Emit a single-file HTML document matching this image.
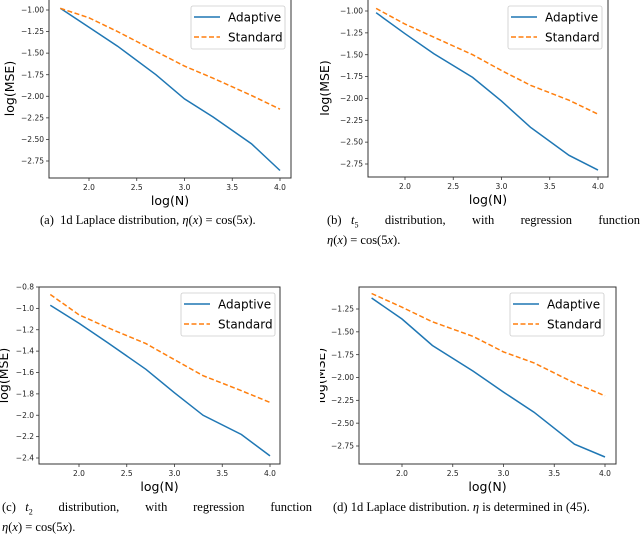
<!DOCTYPE html>
<html><head><meta charset="utf-8">
<style>
body{margin:0;background:#fff;width:640px;height:531px;overflow:hidden;}
svg{display:block;}
.tk{font-family:"DejaVu Sans","Liberation Sans",sans-serif;font-size:7.5px;fill:#222;}
.lab{font-family:"DejaVu Sans","Liberation Sans",sans-serif;font-size:12.5px;fill:#000;}
.lg{font-family:"DejaVu Sans","Liberation Sans",sans-serif;font-size:12px;fill:#000;}
</style></head><body>
<svg id="fig" width="640" height="531" viewBox="0 0 640 531">
<defs><clipPath id="clipRight"><rect x="320" y="0" width="320" height="531"/></clipPath></defs>
</svg>
<script>
const xValues=[1.7,2.0,2.3,2.7,3.0,3.3,3.7,4.0];
const xTicks=[2.0,2.5,3.0,3.5,4.0];
const adaptiveA=[-0.98,-1.20,-1.42,-1.75,-2.03,-2.24,-2.55,-2.86];
const standardA=[-0.98,-1.09,-1.25,-1.48,-1.65,-1.79,-1.99,-2.15];
const adaptiveB=[-1.02,-1.26,-1.49,-1.76,-2.03,-2.33,-2.65,-2.82];
const standardB=[-0.97,-1.15,-1.30,-1.50,-1.68,-1.85,-2.02,-2.18];
const adaptiveC=[-0.97,-1.14,-1.32,-1.57,-1.79,-2.00,-2.18,-2.38];
const standardC=[-0.87,-1.06,-1.18,-1.33,-1.48,-1.63,-1.77,-1.88];
const adaptiveD=[-1.13,-1.36,-1.65,-1.93,-2.16,-2.38,-2.73,-2.87];
const standardD=[-1.08,-1.23,-1.39,-1.55,-1.72,-1.84,-2.06,-2.20];
const yTicksA=[-1.00,-1.25,-1.50,-1.75,-2.00,-2.25,-2.50,-2.75];
const yTicksC=[-0.8,-1.0,-1.2,-1.4,-1.6,-1.8,-2.0,-2.2,-2.4];
const yTicksD=[-1.25,-1.50,-1.75,-2.00,-2.25,-2.50,-2.75];

const NS='http://www.w3.org/2000/svg';
const svg=document.getElementById('fig');
function mk(tag,attrs,parent){const e=document.createElementNS(NS,tag);for(const k in attrs)e.setAttribute(k,attrs[k]);(parent||svg).appendChild(e);return e;}

function panel(p){
  const g=mk('g',p.clip?{'clip-path':'url(#clipRight)'}:{});
  
  
  const sx=v=>p.x2px+(v-2)*(p.x4px-p.x2px)/2;
  const sy=v=>p.yApx+(v-p.yA)*(p.yBpx-p.yApx)/(p.yB-p.yA);
  const frame=mk('rect',{x:p.L,y:p.T,width:p.R-p.L,height:p.B-p.T,fill:'none',stroke:'#333','stroke-width':1},g);
  
  
  p.yt.forEach(v=>{const y=sy(v);
    mk('line',{x1:p.L-3,x2:p.L,y1:y,y2:y,stroke:'#333','stroke-width':0.8},g);
    const t=mk('text',{x:p.L-5,y:y+2.6,'text-anchor':'end',class:'tk'},g);t.textContent=(v<0?'\u2212':'')+Math.abs(v).toFixed(p.dec);
    
    
  });
  xTicks.forEach(v=>{const x=sx(v);
    mk('line',{x1:x,x2:x,y1:p.B,y2:p.B+3,stroke:'#333','stroke-width':0.8},g);
    const t=mk('text',{x:x,y:p.B+12,'text-anchor':'middle',class:'tk'},g);t.textContent=v.toFixed(1);
    
    
  });
  const yl=mk('text',{x:0,y:0,'text-anchor':'middle',class:'lab',transform:`translate(${p.ylx},${(p.T+p.B)/2}) rotate(-90)`},g);yl.textContent='log(MSE)';
  
  
  const xl=mk('text',{x:(p.L+p.R)/2,y:p.B+27,'text-anchor':'middle',class:'lab'},g);xl.textContent='log(N)';
  
  
  const pts=a=>a.map((v,i)=>sx(xValues[i]).toFixed(1)+','+sy(v).toFixed(1)).join(' ');
  const la=mk('polyline',{points:pts(p.ad),fill:'none',stroke:'#1f77b4','stroke-width':1.5},g);
  
  
  const ls=mk('polyline',{points:pts(p.st),fill:'none',stroke:'#ff7f0e','stroke-width':1.5,'stroke-dasharray':'5,2.5'},g);
  
  
  const lgx=p.lgx,lgy=p.lgy;
  const lg=mk('g',{},g);
  
  
  mk('rect',{x:lgx,y:lgy,width:94,height:43,rx:2,fill:'#fff',stroke:'#ccc','stroke-width':0.8},lg);
  mk('line',{x1:lgx+3,x2:lgx+29,y1:lgy+11,y2:lgy+11,stroke:'#1f77b4','stroke-width':1.5},lg);
  mk('line',{x1:lgx+3,x2:lgx+29,y1:lgy+31,y2:lgy+31,stroke:'#ff7f0e','stroke-width':1.5,'stroke-dasharray':'5,2.5'},lg);
  const t1=mk('text',{x:lgx+37,y:lgy+15.5,class:'lg'},lg);t1.textContent='Adaptive';
  
  
  const t2=mk('text',{x:lgx+37,y:lgy+35.5,class:'lg'},lg);t2.textContent='Standard';
  
  
}
panel({id:'a',L:49,R:291,T:-1,B:178,x2px:89,x4px:280,yA:-1,yApx:10,yB:-2.75,yBpx:161,yt:yTicksA,dec:2,ad:adaptiveA,st:standardA,lgx:191,lgy:6,ylx:14});
panel({id:'b',L:368,R:608,T:-1,B:177,x2px:405,x4px:598,yA:-1,yApx:11,yB:-2.75,yBpx:164,yt:yTicksA,dec:2,ad:adaptiveB,st:standardB,lgx:508,lgy:6,ylx:329,clip:true});
panel({id:'c',L:39,R:280,T:287,B:464,x2px:79,x4px:270,yA:-0.8,yApx:287,yB:-2.4,yBpx:458,yt:yTicksC,dec:1,ad:adaptiveC,st:standardC,lgx:181,lgy:293,ylx:8});
panel({id:'d',L:359,R:616,T:287,B:464,x2px:402,x4px:605,yA:-1.25,yApx:309,yB:-2.75,yBpx:446,yt:yTicksD,dec:2,ad:adaptiveD,st:standardD,lgx:510,lgy:293,ylx:325,clip:true});
</script>
<div style="position:absolute;left:0;top:0;width:640px;height:531px;pointer-events:none;font-family:'Liberation Serif',serif;font-size:12.5px;color:#000;">
  <div style="position:absolute;left:40px;top:213px;white-space:nowrap;">(a)&nbsp; 1d Laplace distribution, <i>η</i>(<i>x</i>) = cos(5<i>x</i>).</div>
  <div style="position:absolute;left:327px;top:213px;width:313px;line-height:15px;">
    <div style="display:flex;justify-content:space-between;white-space:nowrap;"><span>(b)&nbsp;&nbsp; <i>t</i><sub style="font-size:8px">5</sub></span><span>distribution,</span><span>with</span><span>regression</span><span>function</span></div>
    <div><i>η</i>(<i>x</i>) = cos(5<i>x</i>).</div></div>
  <div style="position:absolute;left:2px;top:500px;width:310px;line-height:15px;">
    <div style="display:flex;justify-content:space-between;white-space:nowrap;"><span>(c)&nbsp;&nbsp; <i>t</i><sub style="font-size:8px">2</sub></span><span>distribution,</span><span>with</span><span>regression</span><span>function</span></div>
    <div><i>η</i>(<i>x</i>) = cos(5<i>x</i>).</div></div>
  <div style="position:absolute;left:333px;top:500px;white-space:nowrap;">(d) 1d Laplace distribution. <i>η</i> is determined in (45).</div>
</div>
</body></html>
